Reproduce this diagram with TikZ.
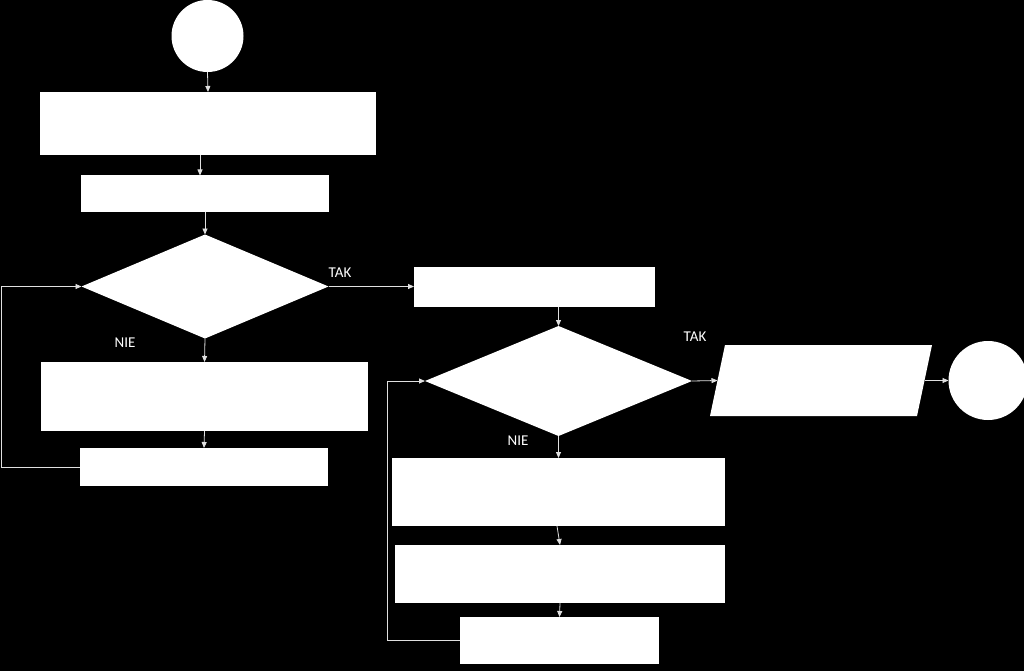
\documentclass[tikz,border=0pt]{standalone}
\usepackage{fontspec}
\setmainfont{Carlito}
\usepackage{tikz}
\usetikzlibrary{shapes.geometric,arrows.meta}

\begin{document}
\begin{tikzpicture}[x=1pt, y=-1pt,
        every node/.style={inner sep=0pt, outer sep=0pt},
        term/.style={circle, fill=white, minimum size=#1},
        proc/.style 2 args={rectangle, fill=white, minimum width=#1, minimum height=#2},
        decide/.style 2 args={diamond, fill=white, minimum width=#1, minimum height=#2},
        answer/.style={text=white, font=\fontsize{15}{18}\selectfont},
        arr/.style={draw=white!88!black, line width=0.8pt, -{Triangle[length=6pt,width=5pt]}}]
    \fill[black] (0,0) rectangle (1024,671);
    \useasboundingbox (0,0) rectangle (1024,671);
    % left column
    \node[term=72pt] (start) at (207.5,36) {};
    \node[proc={336pt}{63pt}] (init) at (208,123.5) {};
    \node[proc={248pt}{36pt}] (setup) at (205,193.5) {};
    \node[decide={247pt}{104pt}] (testA) at (205,286.5) {};
    \node[proc={327pt}{69pt}] (workA) at (204.5,396.5) {};
    \node[proc={248pt}{38pt}] (nextA) at (204,467) {};
    % right column
    \node[proc={241pt}{40pt}] (prep) at (534.5,286.5) {};
    \node[decide={267pt}{110pt}] (testB) at (558.5,381) {};
    \node[proc={207pt}{71pt}, fill=none] (output) at (821,380.5) {};
    \fill[white] ([xshift=-7.5pt]output.south west) -- ([xshift=7.5pt]output.north west)
        -- ([xshift=7.5pt]output.north east) -- ([xshift=-7.5pt]output.south east) -- cycle;
    \node[term=79pt] (stop) at (988,380.5) {};
    \node[proc={333pt}{68pt}] (workB) at (558.5,492) {};
    \node[proc={330pt}{58pt}] (workC) at (560,574) {};
    \node[proc={199pt}{47pt}] (nextB) at (559.5,640.5) {};
    % branch labels
    \node[answer] (yesA) at (340,273) {TAK};
    \node[answer] (noA) at (125,343) {NIE};
    \node[answer] (yesB) at (695,337) {TAK};
    \node[answer] (noB) at (518,441) {NIE};

    \draw[arr] (start.south) -- (init.north);
    \draw[arr] ([xshift=-8pt]init.south) -- ([xshift=-5pt]setup.north);
    \draw[arr] (setup.south) -- (testA.north);
    \draw[arr] (testA.east) -- (prep.west);
    \draw[arr] (testA.south) -- (workA.north);
    \draw[arr] (workA.south) -- (nextA.north);
    \draw[arr] (nextA.west) -- ++(-79,0) |- (testA.west);
    \draw[arr] (prep.south -| testB.north) -- (testB.north);
    \draw[arr] (testB.east) -- (output.west);
    \draw[arr] (output.east) -- (stop.west);
    \draw[arr] (testB.south) -- (workB.north);
    \draw[arr] ([xshift=-1.5pt]workB.south) -- (workC.north);
    \draw[arr] (workC.south) -- (nextB.north);
    \draw[arr] (nextB.west) -- ++(-73,0) |- (testB.west);
\end{tikzpicture}
\end{document}
